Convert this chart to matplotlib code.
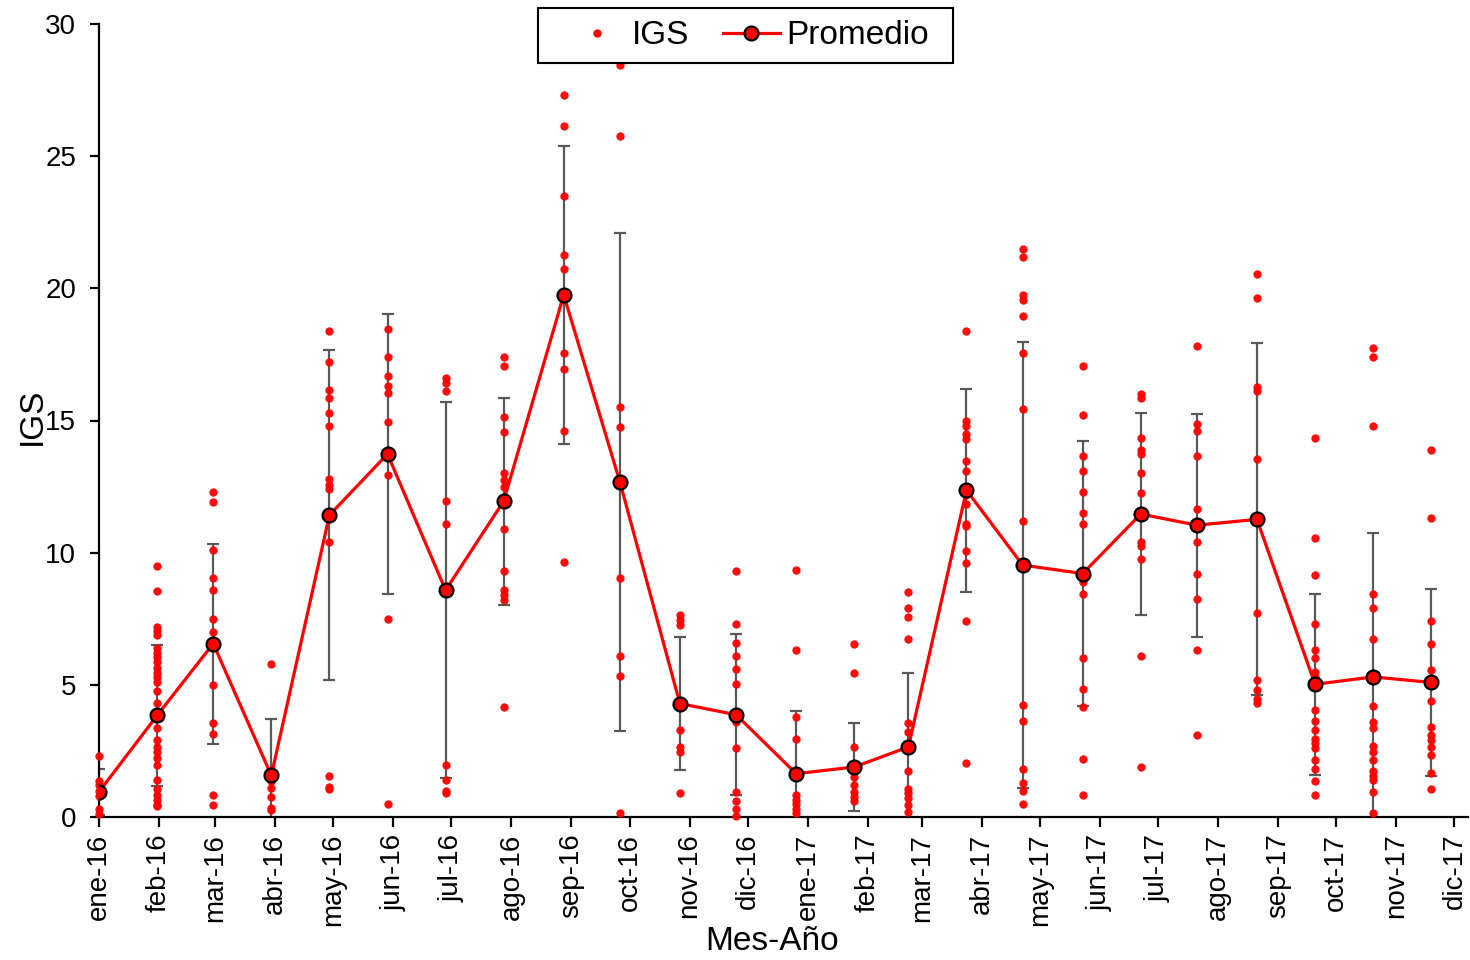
import matplotlib
matplotlib.use("Agg")
import matplotlib.pyplot as plt
import matplotlib.dates as mdates
from matplotlib.patches import Rectangle
from datetime import date

plt.rcParams['font.family'] = ['Liberation Sans', 'DejaVu Sans']

# Fechas de muestreo
fechas = ["2016-01-01", "2016-01-31", "2016-02-29", "2016-03-30", "2016-04-29",
          "2016-05-29", "2016-06-28", "2016-07-28", "2016-08-28", "2016-09-26",
          "2016-10-27", "2016-11-25", "2016-12-26", "2017-01-25", "2017-02-22",
          "2017-03-24", "2017-04-22", "2017-05-23", "2017-06-22", "2017-07-21",
          "2017-08-21", "2017-09-20", "2017-10-20", "2017-11-19"]

# IGS individual por muestreo
igs_01 = [2.3, 1.35, 1.2, 1.0, 0.8, 0.3, 0.1]
igs_02 = [9.5, 8.55, 7.2, 7.05, 6.9, 6.4, 6.2, 6.05, 5.85, 5.65, 5.45, 5.3, 5.1, 4.75,
          4.3, 3.85, 3.35, 2.9, 2.65, 2.45, 2.25, 1.95, 1.4, 1.05, 0.85, 0.65, 0.45, 0.4]
igs_03 = [12.3, 11.9, 10.1, 9.05, 8.6, 7.5, 7.0, 6.6, 5.0, 3.55, 3.15, 0.85, 0.45]
igs_04 = [5.8, 1.65, 1.35, 1.1, 0.75, 0.35, 0.25]
igs_05 = [18.4, 17.2, 16.15, 15.85, 15.3, 14.8, 12.8, 12.55, 12.4, 10.4, 1.55, 1.15, 1.05]
igs_06 = [18.45, 17.4, 16.7, 16.3, 16.05, 14.95, 13.8, 12.95, 7.5, 0.5]
igs_07 = [16.6, 16.4, 16.1, 11.95, 11.1, 1.95, 1.4, 1.0, 0.9]
igs_08 = [17.4, 17.05, 15.15, 14.55, 13.0, 12.75, 12.5, 10.9, 9.3, 8.6, 8.4, 8.2, 4.15]
igs_09 = [27.3, 26.15, 23.5, 21.25, 20.75, 19.8, 17.55, 16.95, 14.6, 9.65]
igs_10 = [28.45, 25.75, 15.5, 14.75, 9.05, 6.1, 5.35, 0.15]
igs_11 = [7.65, 7.45, 7.25, 4.4, 3.3, 2.65, 2.45, 0.9]
igs_12 = [9.3, 7.3, 6.6, 6.1, 5.6, 5.05, 3.9, 3.6, 2.6, 0.95, 0.6, 0.3, 0.05]
igs_13 = [9.35, 6.3, 3.8, 2.95, 1.65, 0.85, 0.65, 0.5, 0.3, 0.15]
igs_14 = [6.55, 5.45, 2.65, 1.9, 1.5, 1.2, 0.95, 0.75, 0.6]
igs_15 = [8.5, 7.9, 7.55, 6.75, 3.55, 3.2, 2.65, 1.75, 1.05, 0.9, 0.7, 0.45, 0.2]
igs_16 = [18.4, 15.0, 14.8, 14.5, 14.3, 13.45, 13.1, 12.2, 11.85, 11.1, 11.0, 10.05,
          9.6, 7.4, 2.05]
igs_17 = [21.5, 21.2, 19.75, 19.55, 18.95, 17.55, 15.45, 11.2, 4.25, 3.65, 1.8, 1.3,
          1.0, 0.5]
igs_18 = [17.05, 15.2, 13.65, 13.1, 12.3, 11.5, 11.1, 9.2, 8.9, 8.45, 6.0, 4.85, 4.15,
          2.2, 0.85]
igs_19 = [16.0, 15.85, 14.35, 13.9, 13.75, 13.0, 12.25, 11.45, 10.4, 10.25, 9.75, 6.1, 1.9]
igs_20 = [17.8, 14.85, 14.6, 13.65, 11.65, 11.0, 10.4, 9.2, 8.25, 6.3, 3.1]
igs_21 = [20.55, 19.65, 16.25, 16.1, 13.55, 11.3, 7.7, 5.2, 4.8, 4.45, 4.3]
igs_22 = [14.35, 10.55, 9.15, 7.3, 6.3, 6.0, 5.5, 5.3, 5.0, 4.05, 3.65, 3.3, 2.95, 2.8,
          2.6, 2.15, 1.8, 1.35, 0.85]
igs_23 = [17.75, 17.4, 14.8, 8.45, 7.9, 6.75, 5.3, 4.2, 3.6, 3.35, 2.7, 2.45, 2.15,
          1.75, 1.55, 1.4, 0.95, 0.15]
igs_24 = [13.9, 11.3, 7.4, 6.55, 5.55, 5.1, 4.4, 3.4, 3.1, 2.9, 2.65, 2.35, 1.65, 1.05]

muestras = [igs_01, igs_02, igs_03, igs_04, igs_05, igs_06, igs_07, igs_08,
            igs_09, igs_10, igs_11, igs_12, igs_13, igs_14, igs_15, igs_16,
            igs_17, igs_18, igs_19, igs_20, igs_21, igs_22, igs_23, igs_24]

# Promedio mensual y desviación estándar
promedio = [0.95, 3.84, 6.56, 1.57, 11.42, 13.73, 8.58, 11.95, 19.75, 12.68, 4.29, 3.87,
            1.64, 1.89, 2.65, 12.36, 9.53, 9.21, 11.46, 11.04, 11.26, 5.02, 5.30, 5.09]
desv_est = [0.88, 2.67, 3.78, 2.12, 6.24, 5.30, 7.12, 3.92, 5.65, 9.42, 2.51, 3.05,
            2.37, 1.68, 2.80, 3.83, 8.45, 5.00, 3.83, 4.22, 6.66, 3.42, 5.45, 3.55]

# Etiquetas del eje X (inicio de cada mes)
etiquetas_mes = ["ene-16", "feb-16", "mar-16", "abr-16", "may-16", "jun-16",
                 "jul-16", "ago-16", "sep-16", "oct-16", "nov-16", "dic-16",
                 "ene-17", "feb-17", "mar-17", "abr-17", "may-17", "jun-17",
                 "jul-17", "ago-17", "sep-17", "oct-17", "nov-17", "dic-17"]

x_fechas = mdates.datestr2num(fechas)
ticks_mes = [mdates.date2num(date(2016 + i // 12, i % 12 + 1, 1)) for i in range(24)]

W, H = 1470, 960
fig = plt.figure(figsize=(W / 100, H / 100), dpi=100)
ax = fig.add_axes([99 / W, 1 - 817 / H, 1369 / W, 793 / H])

rojo = "#FF0000"

# Puntos individuales
for xf, vals in zip(x_fechas, muestras):
    ax.plot([xf] * len(vals), vals, linestyle="none", marker="o", markersize=6,
            markerfacecolor=rojo, markeredgecolor="none", alpha=0.95, zorder=3,
            clip_on=False)

# Barras de error (± desviación estándar)
ax.errorbar(x_fechas, promedio, yerr=desv_est, fmt="none", ecolor="#595959",
            elinewidth=1.6, capsize=4.5, capthick=1.6, zorder=2)

# Línea del promedio
ax.plot(x_fechas, promedio, color=rojo, linewidth=2.3, marker="o", markersize=10,
        markerfacecolor=rojo, markeredgecolor="black", markeredgewidth=1.6, zorder=4)

# Recuadro de la leyenda
marco = Rectangle((538 / W, 1 - 63 / H), 415 / W, 55 / H, transform=fig.transFigure,
                  facecolor="white", edgecolor="black", linewidth=1.5,
                  clip_on=False, zorder=5)
ax.add_patch(marco)

# Entradas de la leyenda
h_igs = plt.Line2D([], [], linestyle="none", marker="o", markersize=6,
                   markerfacecolor=rojo, markeredgecolor="none")
h_prom = plt.Line2D([], [], color=rojo, linewidth=2.3, marker="o", markersize=10,
                    markerfacecolor=rojo, markeredgecolor="black", markeredgewidth=1.6)
leg = ax.legend([h_igs, h_prom], ["IGS", "Promedio"], ncol=2, loc="center",
                bbox_to_anchor=(749 / W, 1 - 36 / H),
                bbox_transform=fig.transFigure, fontsize=24, frameon=False,
                handlelength=1.7, handletextpad=0.2, columnspacing=1.0,
                borderpad=0, borderaxespad=0)
leg.set_zorder(6)

ax.set_ylim(0, 30)
ax.set_yticks([0, 5, 10, 15, 20, 25, 30])
ax.set_xlim(mdates.date2num(date(2016, 1, 1)), mdates.date2num(date(2017, 12, 8)))
ax.set_xticks(ticks_mes)
ax.set_xticklabels(etiquetas_mes, rotation=90)

for s in ["top", "right"]:
    ax.spines[s].set_visible(False)
for s in ["left", "bottom"]:
    ax.spines[s].set_linewidth(1.6)

ax.tick_params(axis="y", direction="out", length=6.5, width=1.6, labelsize=20, pad=10)
ax.tick_params(axis="x", direction="out", length=7, width=1.6, labelsize=20, pad=5)

ax.set_ylabel("IGS", fontsize=24)
ax.yaxis.set_label_coords(-0.037, 0.505)
ax.set_xlabel("Mes-Año", fontsize=24)
ax.xaxis.set_label_coords(0.4916, -0.137)

fig.savefig("out.png", dpi=100)
